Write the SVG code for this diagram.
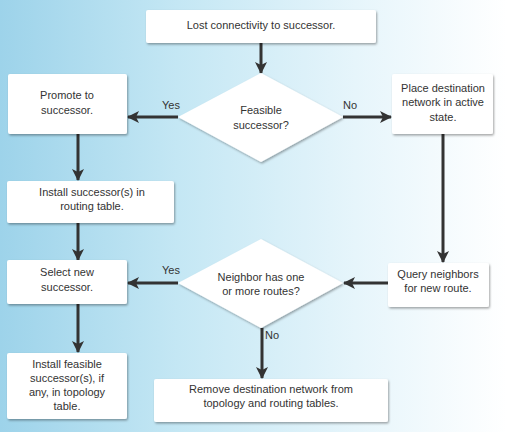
<svg xmlns="http://www.w3.org/2000/svg" width="507" height="432" viewBox="0 0 507 432">
<defs>
<linearGradient id="bg" x1="0" y1="0" x2="1" y2="0">
<stop offset="0" stop-color="#9dd3ea"/>
<stop offset="0.35" stop-color="#c4e7f4"/>
<stop offset="0.7" stop-color="#e6f5fb"/>
<stop offset="1" stop-color="#ffffff"/>
</linearGradient>
<filter id="sh" x="-10%" y="-10%" width="125%" height="130%">
<feDropShadow dx="1" dy="1.5" stdDeviation="1" flood-color="#000" flood-opacity="0.35"/>
</filter>
<marker id="ah" markerUnits="userSpaceOnUse" markerWidth="12" markerHeight="14" viewBox="0 0 12 14" refX="11" refY="7" orient="auto">
<path d="M0,1 L12,7 L0,13 L3,7 Z" fill="#333"/>
</marker>
<style>
.box{fill:#fff;filter:url(#sh)}
.t{font-family:"Liberation Sans",Arial,sans-serif;font-size:11px;fill:#333;text-anchor:middle}
.l{font-family:"Liberation Sans",Arial,sans-serif;font-size:11px;fill:#333}
.c{stroke:#333;stroke-width:3;fill:none;marker-end:url(#ah)}
</style>
</defs>
<rect width="507" height="432" fill="url(#bg)"/>
<g id="connectors">
<line class="c" x1="261" y1="43" x2="261" y2="73"/>
<line class="c" x1="178" y1="117" x2="128" y2="117"/>
<line class="c" x1="343" y1="117" x2="391" y2="117"/>
<line class="c" x1="78" y1="134" x2="78" y2="180"/>
<line class="c" x1="78" y1="223" x2="78" y2="260"/>
<line class="c" x1="443" y1="134" x2="443" y2="262"/>
<line class="c" x1="388" y1="283" x2="344" y2="283"/>
<line class="c" x1="178" y1="283" x2="128" y2="283"/>
<line class="c" x1="78" y1="304" x2="78" y2="352"/>
<line class="c" x1="262" y1="328" x2="262" y2="378"/>
<text class="l" x="162" y="109">Yes</text>
<text class="l" x="343" y="109">No</text>
<text class="l" x="162" y="274">Yes</text>
<text class="l" x="265" y="339">No</text>
</g>
<g id="lost">
<rect class="box" x="146" y="10" width="230" height="33" rx="2"/>
<text class="t" x="261" y="29">Lost connectivity to successor.</text>
</g>
<g id="feasible">
<polygon class="box" points="261,73 343,117 261,162 178,117"/>
<text class="t" x="261" y="114">Feasible</text>
<text class="t" x="261" y="129">successor?</text>
</g>
<g id="promote">
<rect class="box" x="8" y="74" width="119" height="60" rx="2"/>
<text class="t" x="67" y="99">Promote to</text>
<text class="t" x="67" y="114">successor.</text>
</g>
<g id="place">
<rect class="box" x="392" y="74" width="101" height="60" rx="2"/>
<text class="t" x="443" y="92">Place destination</text>
<text class="t" x="443" y="106">network in active</text>
<text class="t" x="443" y="121">state.</text>
</g>
<g id="install-successor">
<rect class="box" x="7" y="181" width="167" height="42" rx="2"/>
<text class="t" x="92" y="196">Install successor(s) in</text>
<text class="t" x="92" y="210">routing table.</text>
</g>
<g id="select">
<rect class="box" x="7" y="260" width="120" height="44" rx="2"/>
<text class="t" x="67" y="276">Select new</text>
<text class="t" x="67" y="291">successor.</text>
</g>
<g id="neighbor">
<polygon class="box" points="261,239 343,283 261,328 178,283"/>
<text class="t" x="261" y="281">Neighbor has one</text>
<text class="t" x="261" y="295">or more routes?</text>
</g>
<g id="query">
<rect class="box" x="388" y="263" width="101" height="44" rx="2"/>
<text class="t" x="438" y="278">Query neighbors</text>
<text class="t" x="438" y="292">for new route.</text>
</g>
<g id="install-feasible">
<rect class="box" x="7" y="353" width="120" height="66" rx="2"/>
<text class="t" x="67" y="368">Install feasible</text>
<text class="t" x="67" y="382">successor(s), if</text>
<text class="t" x="67" y="396">any, in topology</text>
<text class="t" x="67" y="410">table.</text>
</g>
<g id="remove">
<rect class="box" x="154" y="379" width="234" height="43" rx="2"/>
<text class="t" x="271" y="393">Remove destination network from</text>
<text class="t" x="271" y="407">topology and routing tables.</text>
</g>
</svg>
